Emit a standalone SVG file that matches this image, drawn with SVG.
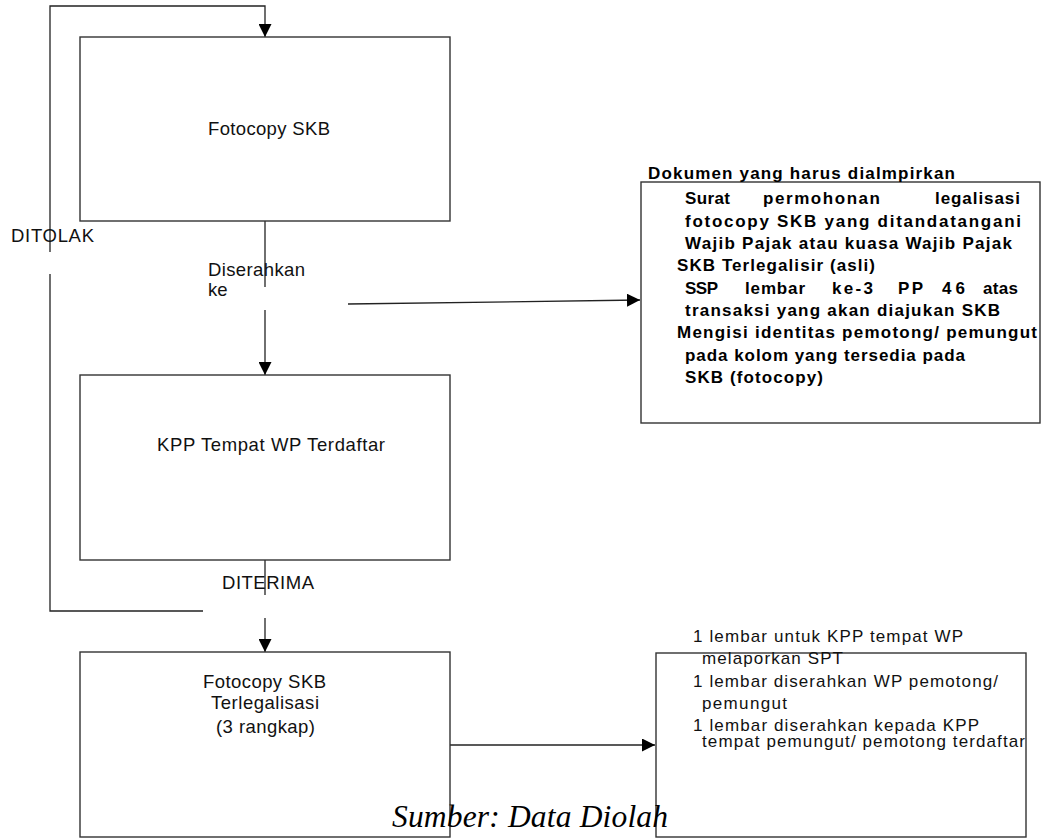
<svg xmlns="http://www.w3.org/2000/svg" width="1047" height="838" viewBox="0 0 1047 838">
<style>
.box{fill:#fff;stroke:#333;stroke-width:1.4}
.ln{fill:none;stroke:#222;stroke-width:1.3}
.t{font-family:"Liberation Sans",Arial,sans-serif;font-size:18.5px;fill:#111}
.s{font-family:"Liberation Sans",Arial,sans-serif;font-size:17px;fill:#111}
.b{font-family:"Liberation Sans",Arial,sans-serif;font-size:17px;font-weight:bold;fill:#000}
.src{font-family:"Liberation Serif","Times New Roman",serif;font-size:31.5px;font-style:italic;fill:#000}
</style>
<defs>
<marker id="ah" markerUnits="userSpaceOnUse" markerWidth="13" markerHeight="13" viewBox="0 0 12 12" refX="12" refY="6" orient="auto">
<path d="M0,0 L12,6 L0,12 Z" fill="#000"/>
</marker>
</defs>
<rect width="1047" height="838" fill="#fff"/>

<g id="connectors">
<polyline class="ln" points="203,611 50,611 50,274"/>
<polyline class="ln" points="50,252 50,6 265,6 265,37" marker-end="url(#ah)"/>
<line class="ln" x1="265" y1="221" x2="265" y2="287"/>
<line class="ln" x1="265" y1="310" x2="265" y2="375" marker-end="url(#ah)"/>
<line class="ln" x1="265" y1="560" x2="265" y2="595"/>
<line class="ln" x1="265" y1="618" x2="265" y2="652" marker-end="url(#ah)"/>
<line class="ln" x1="348" y1="304" x2="640" y2="300" marker-end="url(#ah)"/>
<line class="ln" x1="450" y1="745" x2="655" y2="745" marker-end="url(#ah)"/>
</g>

<g id="node-fotocopy">
<rect class="box" x="80" y="37" width="370" height="184"/>
<text class="t" x="208" y="135" textLength="122" lengthAdjust="spacing">Fotocopy SKB</text>
</g>

<g id="node-kpp">
<rect class="box" x="80" y="375" width="370" height="185"/>
<text class="t" x="157" y="451" textLength="228" lengthAdjust="spacing">KPP Tempat WP Terdaftar</text>
</g>

<g id="node-legal">
<rect class="box" x="80" y="652" width="370" height="185"/>
<text class="t" x="203" y="688" textLength="123" lengthAdjust="spacing">Fotocopy SKB</text>
<text class="t" x="211" y="709" textLength="108" lengthAdjust="spacing">Terlegalisasi</text>
<text class="t" x="216" y="733" textLength="99" lengthAdjust="spacing">(3 rangkap)</text>
</g>

<g id="node-dokumen">
<rect class="box" x="641" y="182" width="399" height="241"/>
<text class="b" x="648" y="179" textLength="307" lengthAdjust="spacing">Dokumen yang harus dialmpirkan</text>
<text class="b" x="685" y="204" textLength="45" lengthAdjust="spacing">Surat</text>
<text class="b" x="763" y="204" textLength="117" lengthAdjust="spacing">permohonan</text>
<text class="b" x="935" y="204" textLength="85" lengthAdjust="spacing">legalisasi</text>
<text class="b" x="685" y="226.5" textLength="336" lengthAdjust="spacing">fotocopy SKB yang ditandatangani</text>
<text class="b" x="685" y="249" textLength="327" lengthAdjust="spacing">Wajib Pajak atau kuasa Wajib Pajak</text>
<text class="b" x="677" y="271" textLength="198" lengthAdjust="spacing">SKB Terlegalisir (asli)</text>
<text class="b" x="685" y="293.5" textLength="33" lengthAdjust="spacing">SSP</text>
<text class="b" x="745" y="293.5" textLength="60" lengthAdjust="spacing">lembar</text>
<text class="b" x="832" y="293.5" textLength="41" lengthAdjust="spacing">ke-3</text>
<text class="b" x="898" y="293.5" textLength="25" lengthAdjust="spacing">PP</text>
<text class="b" x="942" y="293.5" textLength="23" lengthAdjust="spacing">46</text>
<text class="b" x="983" y="293.5" textLength="35" lengthAdjust="spacing">atas</text>
<text class="b" x="685" y="316" textLength="315" lengthAdjust="spacing">transaksi yang akan diajukan SKB</text>
<text class="b" x="677" y="338" textLength="360" lengthAdjust="spacing">Mengisi identitas pemotong/ pemungut</text>
<text class="b" x="685" y="360.5" textLength="280" lengthAdjust="spacing">pada kolom yang tersedia pada</text>
<text class="b" x="685" y="383" textLength="138" lengthAdjust="spacing">SKB (fotocopy)</text>
</g>

<g id="node-lembar">
<rect class="box" x="656" y="653" width="370" height="184"/>
<text class="s" x="693" y="642" textLength="270" lengthAdjust="spacing">1 lembar untuk KPP tempat WP</text>
<text class="s" x="702" y="664" textLength="141" lengthAdjust="spacing">melaporkan SPT</text>
<text class="s" x="693" y="687" textLength="305" lengthAdjust="spacing">1 lembar diserahkan WP pemotong/</text>
<text class="s" x="702" y="709" textLength="85" lengthAdjust="spacing">pemungut</text>
<text class="s" x="693" y="731" textLength="286" lengthAdjust="spacing">1 lembar diserahkan kepada KPP</text>
<text class="s" x="702" y="747" textLength="323" lengthAdjust="spacing">tempat pemungut/ pemotong terdaftar</text>
</g>

<g id="labels">
<text class="t" x="11" y="242" textLength="83" lengthAdjust="spacing">DITOLAK</text>
<text class="t" x="208" y="276" textLength="97" lengthAdjust="spacing">Diserahkan</text>
<text class="t" x="208" y="296">ke</text>
<text class="t" x="222" y="589" textLength="92" lengthAdjust="spacing">DITERIMA</text>
</g>

<text class="src" x="392" y="827" textLength="276" lengthAdjust="spacing">Sumber: Data Diolah</text>
</svg>
